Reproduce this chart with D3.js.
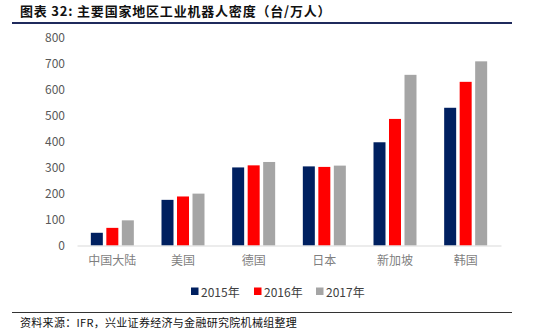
<!DOCTYPE html>
<html><head><meta charset="utf-8">
<script src="https://cdn.jsdelivr.net/npm/d3@7"></script>
<style>body{margin:0;background:#fff}</style>
</head><body>
<svg id="c" width="550" height="335"></svg>
<script>
const categories = ["中国大陆","美国","德国","日本","新加坡","韩国"];
const seriesNames = ["2015年","2016年","2017年"];
const s2015 = [49,176,301,305,398,531];
const s2016 = [68,189,309,303,488,631];
const s2017 = [97,200,322,308,658,710];
const yTicks = [0,100,200,300,400,500,600,700,800];
const colors = ["#002060","#FF0000","#A5A5A5"];
const seriesValues = [s2015,s2016,s2017];

const svg = d3.select("#c");
const font = "'Noto Sans CJK SC','Noto Sans',sans-serif";

// title
svg.append("text").attr("x",20).attr("y",16).attr("font-family",font).attr("font-weight","bold")
  .attr("font-size",13).attr("letter-spacing",0.8).attr("fill","#111").text("图表 32: 主要国家地区工业机器人密度（台/万人）");
svg.append("line").attr("x1",12).attr("x2",512).attr("y1",23).attr("y2",23).attr("stroke","#1f2a5c").attr("stroke-width",2);

const x0 = d3.scaleBand().domain(categories).range([77,501]).padding(0);
const groupW = 43;
const x1 = d3.scaleBand().domain(seriesNames).range([0,groupW]).paddingInner(0.226).paddingOuter(0);
const y = d3.scaleLinear().domain([0,800]).range([245.5,38]);

// y axis labels
const yAxis = d3.axisLeft(y).tickValues(yTicks).tickSize(0).tickPadding(0);
const gy = svg.append("g").attr("transform","translate(65,0)").call(yAxis);
gy.select(".domain").remove();
gy.selectAll("text").attr("font-family",font).attr("font-size",12).attr("fill","#595959");

// bars
categories.forEach((c,i)=>{
  const g = svg.append("g").attr("transform",`translate(${x0(c)+(x0.bandwidth()-groupW)/2},0)`);
  seriesNames.forEach((s,j)=>{
    const v = seriesValues[j][i];
    g.append("rect").attr("x",x1(s)).attr("width",x1.bandwidth())
      .attr("y",y(v)).attr("height",y(0)-y(v)).attr("fill",colors[j]);
  });
});

// x axis
const xAxis = d3.axisBottom(x0).tickSize(0).tickPadding(11);
const gx = svg.append("g").attr("transform",`translate(0,${y(0)})`).call(xAxis);
gx.select(".domain").attr("stroke","#d9d9d9").attr("stroke-width",1);
gx.selectAll("text").attr("font-family",font).attr("font-size",12).attr("fill","#7f7f7f");

// legend
const legX = [191,254,316];
seriesNames.forEach((s,j)=>{
  svg.append("rect").attr("x",legX[j]).attr("y",287.5).attr("width",7.5).attr("height",7.5).attr("fill",colors[j]);
  svg.append("text").attr("x",legX[j]+10).attr("y",291.5).attr("dominant-baseline","central")
    .attr("font-family",font).attr("font-size",12).attr("fill","#404040").text(s);
});

// bottom
svg.append("line").attr("x1",12).attr("x2",512).attr("y1",312.5).attr("y2",312.5).attr("stroke","#333").attr("stroke-width",1);
svg.append("text").attr("x",20).attr("y",327).attr("font-family",font).attr("letter-spacing",0.3)
  .attr("font-size",11).attr("fill","#111").text("资料来源：IFR，兴业证券经济与金融研究院机械组整理");
</script>
</body></html>
